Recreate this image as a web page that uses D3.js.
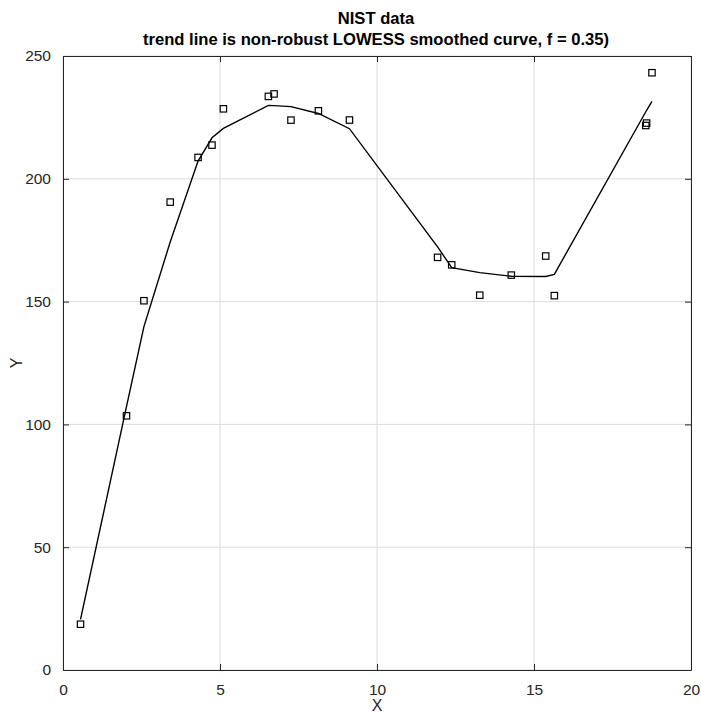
<!DOCTYPE html>
<html>
<head>
<meta charset="utf-8">
<script src="https://cdn.jsdelivr.net/npm/d3@7"></script>
<style>
  body { margin: 0; background: #fff; }
  svg text { font-family: "Liberation Sans", Arial, sans-serif; }
</style>
</head>
<body>
<svg id="chart" width="701" height="713"></svg>
<script>
// NIST LOWESS example data
const xData = [0.5578196, 2.0217271, 2.5773252, 3.4140288, 4.3014084, 4.7448394, 5.1073781,
  6.5411662, 6.7216176, 7.2600583, 8.1335874, 9.1224379, 11.9296663, 12.3797674,
  13.2728619, 14.2767453, 15.3731026, 15.6476637, 18.5605355, 18.5866354, 18.7572812];
const yData = [18.63654, 103.49646, 150.35391, 190.51031, 208.70115, 213.71135, 228.49353,
  233.55387, 234.55054, 223.89225, 227.68339, 223.91982, 168.01999, 164.9575,
  152.61107, 160.78742, 168.55567, 152.42658, 221.70702, 222.6904, 243.18828];
// smoothed trend values
const ySmooth = [20.6, 107.2, 139.8, 174.3, 207.2, 216.7, 220.5,
  229.9, 229.8, 229.4, 226.6, 220.4, 172.3, 163.8,
  161.8, 160.3, 160.2, 161.1, 227.3, 227.9, 231.5];
const xTicks = [0, 5, 10, 15, 20];
const yTicks = [0, 50, 100, 150, 200, 250];

const margin = { top: 56, right: 10, bottom: 43, left: 63 };
const width = 701, height = 713;
const svg = d3.select("#chart");

const x = d3.scaleLinear().domain([0, 20]).range([margin.left, width - margin.right]);
const y = d3.scaleLinear().domain([0, 250]).range([height - margin.bottom, margin.top]);

const axisColor = "#262626";

// grid
svg.append("g")
  .selectAll("line")
  .data(xTicks)
  .join("line")
  .attr("x1", d => x(d)).attr("x2", d => x(d))
  .attr("y1", y(0)).attr("y2", y(250))
  .attr("stroke", "#dcdcdc").attr("stroke-width", 1);
svg.append("g")
  .selectAll("line")
  .data(yTicks)
  .join("line")
  .attr("x1", x(0)).attr("x2", x(20))
  .attr("y1", d => y(d)).attr("y2", d => y(d))
  .attr("stroke", "#dcdcdc").attr("stroke-width", 1);

// axes with inward ticks
function styleAxis(g) {
  g.select(".domain").attr("stroke", axisColor);
  g.selectAll(".tick line").attr("stroke", axisColor);
  g.selectAll(".tick text").attr("fill", axisColor).style("font-size", "15.5px");
}
svg.append("g")
  .attr("transform", "translate(0," + y(0) + ")")
  .call(d3.axisBottom(x).tickValues(xTicks).tickSize(-6).tickSizeOuter(0).tickPadding(14))
  .call(styleAxis);
svg.append("g")
  .attr("transform", "translate(" + x(0) + ",0)")
  .call(d3.axisLeft(y).tickValues(yTicks).tickSize(-6).tickSizeOuter(0).tickPadding(12))
  .call(styleAxis);
svg.append("g")
  .attr("transform", "translate(0," + y(250) + ")")
  .call(d3.axisTop(x).tickValues(xTicks).tickSize(-6).tickSizeOuter(0).tickFormat(""))
  .call(styleAxis);
svg.append("g")
  .attr("transform", "translate(" + x(20) + ",0)")
  .call(d3.axisRight(y).tickValues(yTicks).tickSize(-6).tickSizeOuter(0).tickFormat(""))
  .call(styleAxis);

// trend line
const line = d3.line().x(d => x(d[0])).y(d => y(d[1]));
svg.append("path")
  .datum(xData.map((d, i) => [d, ySmooth[i]]))
  .attr("d", line)
  .attr("fill", "none")
  .attr("stroke", "#000")
  .attr("stroke-width", 1.4);

// data points
svg.append("g")
  .selectAll("rect")
  .data(xData.map((d, i) => [d, yData[i]]))
  .join("rect")
  .attr("x", d => x(d[0]) - 3.2)
  .attr("y", d => y(d[1]) - 3.2)
  .attr("width", 6.4)
  .attr("height", 6.4)
  .attr("fill", "none")
  .attr("stroke", "#000")
  .attr("stroke-width", 1.2);

// titles
svg.append("text")
  .attr("x", 376).attr("y", 24)
  .attr("text-anchor", "middle")
  .style("font-size", "16.6px").style("font-weight", "bold")
  .text("NIST data");
svg.append("text")
  .attr("x", 376).attr("y", 45)
  .attr("text-anchor", "middle")
  .style("font-size", "16.6px").style("font-weight", "bold")
  .text("trend line is non-robust LOWESS smoothed curve, f = 0.35)");

svg.append("text")
  .attr("x", x(10)).attr("y", 711)
  .attr("text-anchor", "middle")
  .attr("fill", axisColor)
  .style("font-size", "16px")
  .text("X");
svg.append("text")
  .attr("transform", "translate(22," + y(125) + ") rotate(-90)")
  .attr("text-anchor", "middle")
  .attr("fill", axisColor)
  .style("font-size", "16px")
  .text("Y");
</script>
</body>
</html>
